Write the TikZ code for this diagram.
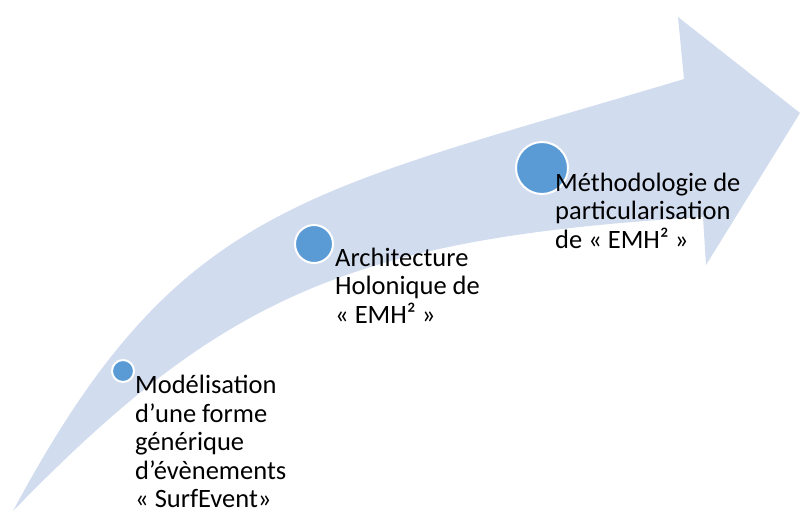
\documentclass[tikz,border=0pt]{standalone}
\usepackage{fontspec}
\setmainfont{Carlito}
\definecolor{arrowfill}{RGB}{209,220,239}
\definecolor{dotfill}{RGB}{91,155,213}
\tikzset{
  dot/.style={circle, fill=dotfill, draw=white, line width=2pt, inner sep=0pt, minimum size=#1},
  lbl/.style={anchor=base west, align=left, inner sep=0pt, font=\fontsize{26.5}{28.5}\selectfont, text=black}
}
\begin{document}
\begin{tikzpicture}[x=1pt,y=-1pt]
\useasboundingbox (0,0) rectangle (800,512);
\fill[arrowfill] (13,511) .. controls (178,203) and (301,194) .. (684,79)
  -- (678,17) -- (800,113) -- (706,265) -- (703,217)
  .. controls (353,238) and (223,295) .. (13,511) -- cycle;
\node[dot=22pt] (d1) at (123,371) {};
\node[dot=38pt] (d2) at (314,244) {};
\node[dot=52pt] (d3) at (542,168) {};
\node[lbl] (t1) at (135,507.5) {Modélisation\\d’une forme\\générique\\d’évènements\\« SurfEvent»};
\node[lbl] (t2) at (335,323) {Architecture\\Holonique de\\« EMH² »};
\node[lbl] (t3) at (555,248) {Méthodologie de\\particularisation\\de « EMH² »};
\end{tikzpicture}
\end{document}
